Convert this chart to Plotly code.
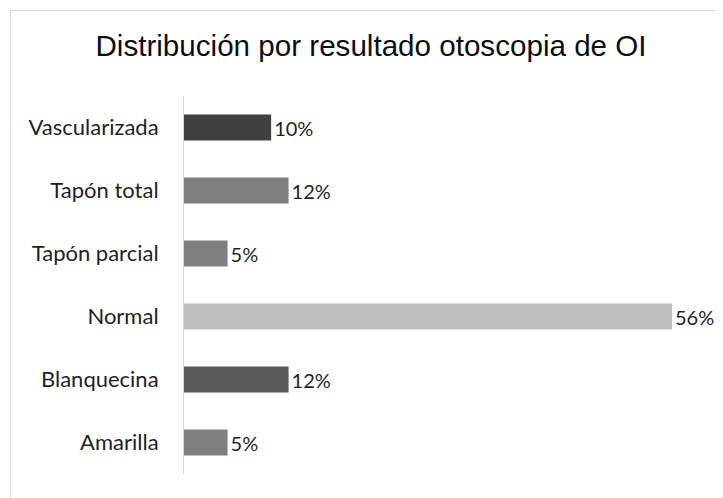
import plotly.graph_objects as go

categories = ["Amarilla", "Blanquecina", "Normal", "Tapón parcial", "Tapón total", "Vascularizada"]
values = [0.05, 0.12, 0.56, 0.05, 0.12, 0.10]
colors = ["#7f7f7f", "#595959", "#bfbfbf", "#7f7f7f", "#7f7f7f", "#404040"]
labels = ["5%", "12%", "56%", "5%", "12%", "10%"]

# page body adds an 8px offset; figure coordinates are reference pixels minus 8
OFF = 8
W, H = 723 - OFF, 498 - OFF
L, T = 184 - OFF, 96 - OFF
pw = 700 - 184
ph = 474 - 96
R = W - L - pw
B = H - T - ph

fig = go.Figure(go.Bar(
    x=values, y=categories, orientation="h",
    marker=dict(color=colors, line=dict(width=0)),
    text=labels, textposition="outside", cliponaxis=False,
    textfont=dict(family="Lato", size=20, color="#1f1f1f"),
))

fig.update_layout(
    width=W, height=H,
    margin=dict(l=L, r=R, t=T, b=B),
    paper_bgcolor="white", plot_bgcolor="white",
    bargap=0.59,
    showlegend=False,
    title=dict(text="Distribución por resultado otoscopia de OI",
               x=(371 - OFF) / W, xref="container", xanchor="center",
               y=1 - (46 - OFF) / H, yref="container", yanchor="middle",
               font=dict(family="Liberation Sans", size=29.6, color="#0d0d0d")),
    xaxis=dict(range=[0, 0.56 * pw / 488], showgrid=False, zeroline=False,
               showticklabels=False, showline=False, fixedrange=True),
    yaxis=dict(showline=True, linecolor="#d9d9d9", linewidth=1, ticks="",
               ticklabelstandoff=20,
               tickfont=dict(family="Lato", size=22, color="#1f1f1f"),
               categoryorder="array", categoryarray=categories),
    shapes=[dict(type="rect", xref="paper", yref="paper",
                 x0=(10.5 - 184) / pw, x1=(723 + 5 - 184) / pw,
                 y0=-(24 + 5) / ph, y1=(474 - 10.5) / ph,
                 line=dict(color="#d9d9d9", width=1), fillcolor="rgba(0,0,0,0)", layer="below")],
)

fig.write_html("out.html")
